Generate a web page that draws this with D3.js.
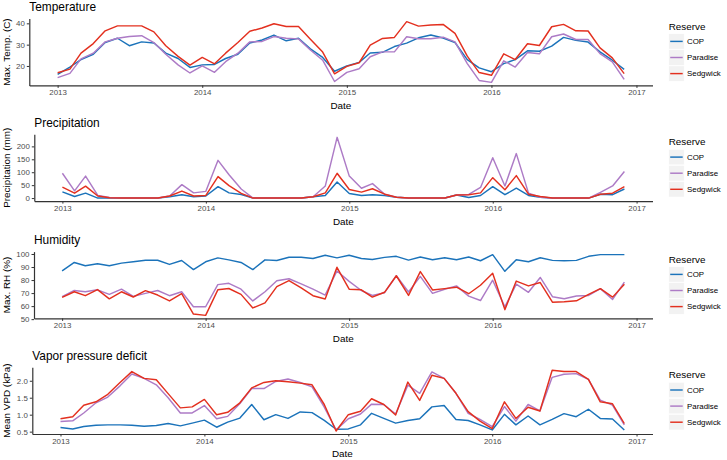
<!DOCTYPE html>
<html>
<head>
<meta charset="utf-8">
<script src="https://cdn.jsdelivr.net/npm/d3@7"></script>
<style>
  html, body { margin: 0; padding: 0; background: #fff; }
  svg { display: block; font-family: "Liberation Sans", Arial, Helvetica, sans-serif; }
</style>
</head>
<body>
<svg id="chart" width="727" height="460"></svg>
<script>
// ---------------- DATA ----------------
const reserves = ["COP", "Paradise", "Sedgwick"];
const reserveColors = ["#1B73BA", "#AD7BC6", "#E3301F"];
const months = d3.timeMonth.range(new Date(2013, 0, 1), new Date(2017, 0, 1)); // 48 months
const yearTicks = [2013, 2014, 2015, 2016, 2017];

const tempCOP = [16,19.5,23,25.5,31,33,29.5,31.3,30.8,26,23.5,19.3, 20.5,20.7,23.5,25.5,30.8,32.2,34.5,31.8,33,28,24,17.5, 20,21.7,26.1,26.4,29.1,30.7,33.2,34.5,33.1,31,23,19.1, 17.3,21.1,23,27.1,26.9,29.3,33.4,32,31.2,26.6,22.7,18.4];
const tempParadise = [14.5,16.5,23.3,26,31.3,33,33.8,34.2,31,25.5,20.5,16.7, 20,17,22,26,31.3,31.5,33.8,33,32.7,27.5,22.7,12.7, 17,18.7,24.3,26.6,26.6,33.7,32.8,32.8,33.5,31.3,21.1,13.2, 12.3,22.4,19.5,26.3,25.7,33.7,35,32.4,32.4,25.8,21.9,13.7];
const tempSedgwick = [16.8,18.5,26,30.5,36.5,38.8,38.8,38.8,36,29.5,24.5,20.4, 24,21,26,31,36.3,37.8,39.8,38.5,38.5,32.5,26.5,16.3, 19.8,21.5,29.8,32.9,33.4,40.8,38.7,39.2,39.5,35.3,24.6,16.9, 15.6,25.7,23,30.4,29.6,38.4,39.5,36.5,36.4,28.5,23.8,16.4];
const tempTicks = [20, 30, 40];

const precipCOP = [24,6,19,0,0,0,0,0,0,5,13,5, 8,44,20,14,0,0,0,0,0,5,10,62, 18,10,13,10,3,0,0,0,0,12,2,10, 44,13,38,10,3,0,0,0,0,15,13,35];
const precipParadise = [96,28,85,10,2,0,0,0,0,8,52,20, 26,146,90,35,0,0,0,0,0,5,47,235, 85,38,56,15,3,0,0,0,0,12,14,41, 156,47,172,19,3,0,0,0,0,22,47,103];
const precipSedgwick = [42,19,46,8,1,0,0,0,0,8,27,8, 10,83,48,18,0,0,0,0,0,5,20,96, 33,23,36,15,3,0,0,0,0,12,13,20, 79,32,87,15,6,0,0,0,0,15,19,44];
const precipTicks = [0, 50, 100, 150, 200];

const rhCOP = [87,93.5,91,92.5,91,93,94,95.2,95.2,92,95,88, 94,97,95.5,93.5,88,95.5,95,97.5,97.5,96.5,99,97, 99,96.5,95.8,97.4,98.2,95.3,97.7,95.6,97.1,95.6,97.7,94.8, 99.5,86.7,95.6,94,97.1,95.1,94.8,95.1,98.2,99.5,99.5,99.5];
const rhParadise = [67.2,72,71,72.5,69,73,67.5,69.8,72,68,71,59.5, 59.5,76.5,77.5,73,64,71,79.5,81,77,73,68.5,87, 79,72,68.2,70.3,83.3,70.8,82.8,69.8,72.9,75.5,67.7,64.3, 79.9,59.4,76.8,70.6,82,67.2,65.6,67.7,68.2,73.4,65.1,78.4];
const rhSedgwick = [66.7,71,68,72.7,65.6,71,67,71.9,68.5,64,69.5,53.9, 52.9,72.5,73.5,69,58.6,62.5,75,79.6,74,68,65.5,89.8, 73,72.5,66.9,70.6,83.3,68.2,86.5,72.4,73.4,74.5,69.5,76, 85.2,57.3,79.2,75.5,78.1,63,63.3,64.1,69,73.4,66.9,76.8];
const rhTicks = [50, 60, 70, 80, 90, 100];

const vpdCOP = [0.62,0.58,0.65,0.69,0.70,0.70,0.69,0.66,0.68,0.74,0.67,0.75, 0.84,0.63,0.78,0.90,1.30,0.85,1.00,0.89,1.08,1.06,0.83,0.57, 0.58,0.70,1.04,0.89,0.75,0.83,0.88,1.23,1.27,0.86,0.83,0.70, 0.55,1.01,0.70,0.96,0.70,0.86,1.03,0.94,1.16,0.89,0.87,0.55];
const vpdParadise = [0.80,0.82,1.05,1.35,1.52,1.85,2.20,2.07,1.88,1.50,1.05,1.05, 1.27,0.88,0.95,1.33,1.77,1.77,1.98,2.05,1.95,1.82,1.22,0.55, 0.88,1.02,1.31,1.30,1.02,1.87,1.63,2.26,2.07,1.63,1.04,0.86, 0.65,1.24,0.81,1.30,1.11,2.10,2.19,2.21,2.04,1.43,1.28,0.70];
const vpdSedgwick = [0.88,0.94,1.28,1.38,1.60,1.95,2.27,2.07,2.03,1.62,1.20,1.23, 1.45,1.00,1.07,1.35,1.79,1.95,2.00,1.97,1.93,1.88,1.30,0.52, 1.00,1.10,1.47,1.30,0.99,1.96,1.42,2.16,2.07,1.63,1.09,0.81, 0.59,1.38,0.89,1.22,1.11,2.31,2.27,2.27,2.04,1.38,1.32,0.74];
const vpdTicks = [0.5, 1.0, 1.5, 2.0];

// ---------------- LAYOUT ----------------
const panels = [
  { title: "Temperature", ylab: "Max. Temp. (C)", series: [tempCOP, tempParadise, tempSedgwick], ticks: tempTicks, fmt: d3.format("d"), top: 18.6, left: 29.3 },
  { title: "Precipitation", ylab: "Precipitation (mm)", series: [precipCOP, precipParadise, precipSedgwick], ticks: precipTicks, fmt: d3.format("d"), top: 134.3, left: 34.3 },
  { title: "Humidity", ylab: "Max. RH (%)", series: [rhCOP, rhParadise, rhSedgwick], ticks: rhTicks, fmt: d3.format("d"), top: 251.6, left: 34.0 },
  { title: "Vapor pressure deficit", ylab: "Mean VPD (kPa)", series: [vpdCOP, vpdParadise, vpdSedgwick], ticks: vpdTicks, fmt: d3.format(".1f"), top: 367.2, left: 32.3 }
];
const plotRight = 652.5;
const plotH = 66.8;
const tickLen = 2.5;

const svg = d3.select("#chart");
svg.append("rect").attr("width", 727).attr("height", 460).attr("fill", "#fff");

function expand(ext, f) {
  const a = +ext[0], b = +ext[1], r = b - a;
  return [a - r * f, b + r * f];
}

panels.forEach(p => {
  const g = svg.append("g");
  const bottom = p.top + plotH;

  const xd = expand(d3.extent(months), 0.05);
  const x = d3.scaleTime().domain([new Date(xd[0]), new Date(xd[1])]).range([p.left, plotRight]);

  const all = p.series.flat();
  const y = d3.scaleLinear().domain(expand(d3.extent(all), 0.05)).range([bottom, p.top]);

  // Title
  g.append("text").attr("x", p.left).attr("y", p.top - 11.6).attr("dy", "0.35em")
    .attr("font-size", 11.9).attr("fill", "#000").text(p.title);

  // Lines
  const line = d3.line().x((d, i) => x(months[i])).y(d => y(d));
  p.series.forEach((s, k) => {
    g.append("path").datum(s).attr("d", line)
      .attr("fill", "none").attr("stroke", reserveColors[k])
      .attr("stroke-width", 1.45).attr("stroke-linejoin", "round");
  });

  // X axis
  const xa = g.append("g").attr("transform", `translate(0,${bottom})`)
    .call(d3.axisBottom(x).tickValues(yearTicks.map(yy => new Date(yy, 0, 1)))
      .tickFormat(d3.timeFormat("%Y")).tickSize(tickLen).tickSizeOuter(0).tickPadding(2));
  // Y axis
  const ya = g.append("g").attr("transform", `translate(${p.left},0)`)
    .call(d3.axisLeft(y).tickValues(p.ticks).tickFormat(p.fmt).tickSize(tickLen).tickSizeOuter(0).tickPadding(2));

  [xa, ya].forEach(a => {
    a.attr("font-family", null).attr("font-size", null);
    a.select(".domain").attr("stroke", "#333").attr("stroke-width", 1.2);
    a.selectAll(".tick line").attr("stroke", "#333").attr("stroke-width", 1);
    a.selectAll(".tick text").attr("fill", "#4D4D4D").attr("font-size", 7.9);
  });

  // Axis titles
  g.append("text").attr("x", (p.left + plotRight) / 2).attr("y", bottom + 20).attr("dy", "0.35em")
    .attr("text-anchor", "middle").attr("font-size", 9.9).attr("fill", "#000").text("Date");
  g.append("text").attr("transform", `translate(6.5,${p.top + plotH / 2}) rotate(-90)`)
    .attr("dy", "0.35em").attr("text-anchor", "middle").attr("font-size", 9.9).attr("fill", "#000").text(p.ylab);

  // Legend
  const lg = g.append("g").attr("transform", `translate(668.7,${p.top})`);
  lg.append("text").attr("x", 0).attr("y", 7.5).attr("dy", "0.35em")
    .attr("font-size", 9.9).attr("fill", "#000").text("Reserve");
  reserves.forEach((r, k) => {
    const cy = 22.8 + k * 16.1;
    lg.append("rect").attr("x", 0).attr("y", cy - 7.75).attr("width", 15.5).attr("height", 15.5)
      .attr("fill", "#F2F2F2").attr("stroke", "#fff").attr("stroke-width", 0.6);
    lg.append("line").attr("x1", 1.5).attr("x2", 14).attr("y1", cy).attr("y2", cy)
      .attr("stroke", reserveColors[k]).attr("stroke-width", 1.45);
    lg.append("text").attr("x", 18.3).attr("y", cy).attr("dy", "0.35em")
      .attr("font-size", 7.9).attr("fill", "#000").text(r);
  });
});
</script>
</body>
</html>
